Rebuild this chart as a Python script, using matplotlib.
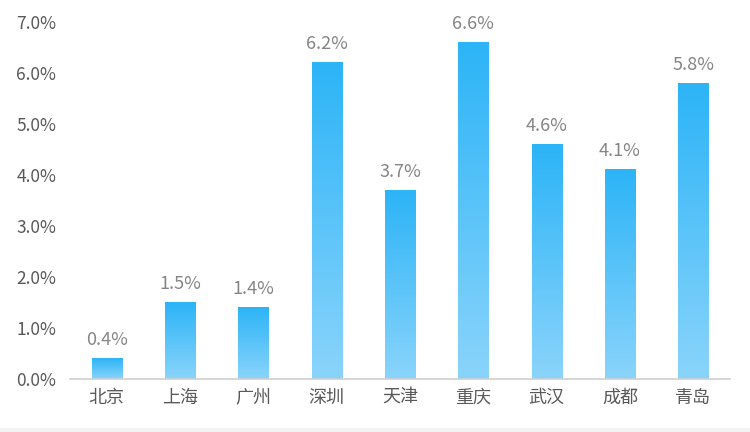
import matplotlib
matplotlib.use("Agg")
import matplotlib.pyplot as plt
import numpy as np
from matplotlib.colors import LinearSegmentedColormap
from matplotlib.patches import Rectangle

plt.rcParams['font.family'] = ['Noto Sans CJK SC', 'DejaVu Sans']

cities = ['北京', '上海', '广州', '深圳', '天津', '重庆', '武汉', '成都', '青岛']
values = [0.4, 1.5, 1.4, 6.2, 3.7, 6.6, 4.6, 4.1, 5.8]
yticks = [0, 1, 2, 3, 4, 5, 6, 7]

fig = plt.figure(figsize=(7.5, 4.32), dpi=100)
fig.patch.set_facecolor('white')
ax = fig.add_axes([0.0933, 0.1227, 0.88, 0.8263])

cmap = LinearSegmentedColormap.from_list('g', ['#8ad4fb', '#2cb4f7'])
grad = np.linspace(0, 1, 256).reshape(-1, 1)
x = np.arange(len(cities))
w = 0.41
for xi, v in zip(x, values):
    ax.imshow(grad, extent=[xi - w/2, xi + w/2, 0, v], origin='lower',
              cmap=cmap, aspect='auto', zorder=2)
    ax.annotate(f'{v:.1f}%', (xi, v), xytext=(0, 7), textcoords='offset points',
                ha='center', va='bottom', fontsize=13, color='#858585')

ax.set_xlim(-0.5, len(cities) - 0.5)
ax.set_ylim(0, 7)
ax.set_xticks(x)
ax.set_xticklabels(cities, fontsize=13)
ax.set_yticks(yticks)
ax.set_yticklabels([f'{t:.1f}%' for t in yticks], fontsize=12.5)
ax.tick_params(axis='both', length=0, colors='#595959')
ax.tick_params(axis='y', pad=10)
ax.tick_params(axis='x', pad=7)
for s in ['top', 'right', 'left']:
    ax.spines[s].set_visible(False)
ax.spines['bottom'].set_color('#d0d0d0')
ax.spines['bottom'].set_linewidth(1.2)

fig.patches.append(Rectangle((0, 0), 1, 0.01, transform=fig.transFigure,
                             facecolor='#f2f2f2', edgecolor='none'))

fig.savefig('out.png', dpi=100, facecolor='white')
